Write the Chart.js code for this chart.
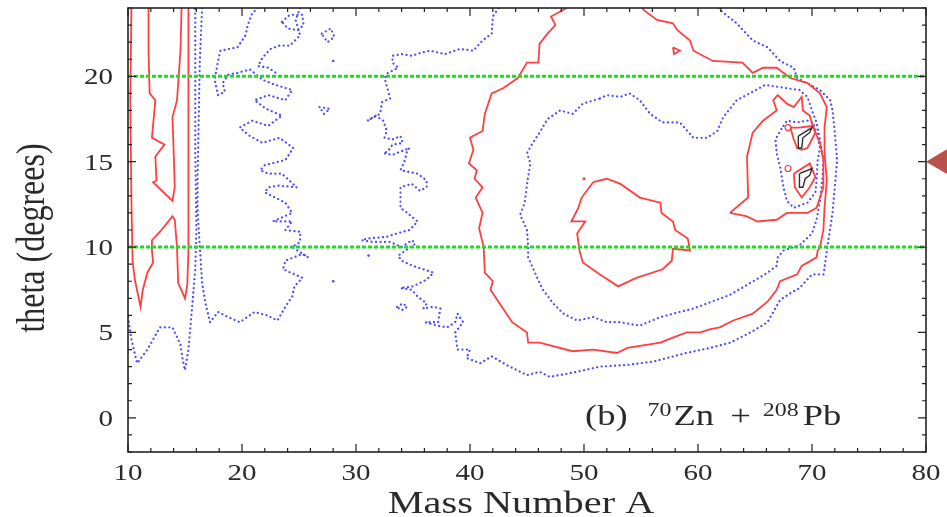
<!DOCTYPE html>
<html>
<head>
<meta charset="utf-8">
<script src="https://cdn.jsdelivr.net/npm/chart.js@4.4.0/dist/chart.umd.min.js"></script>
<style>
    html, body { margin: 0; padding: 0; background: #fff; }
</style>
</head>
<body>
<canvas id="contourChart" width="947" height="517"></canvas>
<script>
// axis setup
const xTicks = [10, 20, 30, 40, 50, 60, 70, 80];
const yTicks = [0, 5, 10, 15, 20];
const xRange = [10, 80];
const yRange = [-2, 24];
const cutAngles = [10, 20];

// red contours, [A, theta]
const redLeftOuter = [[10.3,24.0],[10.2,18.6],[10.3,12.7],[10.4,9.2],[10.6,8.1],[11.1,6.5],[11.3,7.5],[11.7,8.5],[12.2,9.1],[12.1,9.8],[12.1,10.4],[12.8,10.9],[13.9,11.8],[14.1,11.6],[14.3,10.0],[14.4,7.9],[14.8,7.3],[15.0,7.0],[15.2,7.8],[15.3,9.8],[15.3,15.7],[15.3,24.0]];
const redLeftInner = [[11.8,24.0],[11.8,21.5],[11.9,19.0],[12.4,18.6],[12.1,16.4],[13.2,16.0],[12.4,15.3],[12.5,13.9],[12.2,13.8],[13.9,12.7],[14.1,13.5],[14.0,15.7],[13.9,17.6],[14.3,18.6],[14.6,21.5],[14.7,24.0]];
const redOuter = [[48.5,24.0],[47.1,23.5],[47.5,23.0],[46.8,22.5],[46.1,21.9],[46.0,20.8],[45.0,20.8],[44.2,19.9],[42.9,19.3],[41.9,19.0],[41.3,17.8],[41.1,16.8],[40.0,16.4],[40.3,15.7],[39.9,14.9],[40.6,14.5],[40.4,14.0],[41.1,13.5],[40.5,12.9],[41.1,12.0],[40.8,11.1],[41.2,10.0],[41.3,8.5],[42.0,8.0],[41.8,7.5],[42.6,6.7],[43.7,5.6],[45.0,5.0],[45.1,4.4],[46.1,4.4],[49.0,3.9],[50.8,4.0],[52.9,3.8],[53.8,4.1],[56.7,4.4],[57.8,4.7],[59.0,5.0],[60.2,5.0],[61.1,5.2],[61.9,5.3],[63.1,5.7],[64.8,6.1],[66.1,6.8],[66.9,7.5],[67.2,8.0],[68.7,8.4],[69.1,8.9],[70.4,9.4],[70.5,9.8],[70.7,10.0],[71.0,11.0],[71.1,12.3],[71.3,13.9],[71.1,15.5],[71.1,17.0],[71.3,18.2],[70.7,19.0],[69.6,19.6],[68.1,19.9],[66.9,20.5],[65.7,20.5],[64.8,20.2],[63.9,20.8],[61.3,20.9],[59.6,21.5],[59.3,22.1],[58.2,22.7],[57.8,23.1],[56.4,23.3],[55.2,23.9],[55.1,24.0]];
const redCentre = [[50.8,13.8],[52.0,14.0],[53.2,13.7],[54.9,12.9],[56.7,12.6],[56.8,12.0],[57.8,11.5],[58.0,11.0],[59.1,10.5],[59.3,9.8],[57.8,9.9],[57.7,9.2],[56.9,8.7],[54.6,8.2],[53.0,7.7],[51.4,8.4],[49.9,9.1],[49.6,9.8],[49.4,10.8],[50.1,11.5],[48.9,11.5],[49.5,12.3],[49.8,12.9],[50.8,13.8]];
const redHead = [[62.8,12.0],[64.4,12.9],[64.3,15.3],[64.8,16.7],[65.7,17.4],[66.9,18.0],[66.6,18.6],[67.0,18.9],[67.8,18.4],[68.4,18.2],[69.1,18.8],[69.2,18.0],[69.8,17.7],[70.1,17.0],[70.7,16.1],[71.0,15.1],[71.0,13.5],[70.4,12.3],[69.6,12.0],[67.8,12.0],[66.9,11.6],[65.2,11.5],[64.3,11.8],[62.8,12.0]];
const redPeakUp = [[68.1,17.0],[68.9,17.0],[70.1,17.1],[70.3,16.7],[69.6,15.8],[69.1,15.7],[68.7,15.8],[68.4,16.3],[68.1,17.0]];
const redPeakLow = [[68.4,14.3],[69.8,14.9],[70.3,14.1],[69.8,13.5],[69.1,12.9],[68.5,13.5],[68.4,14.3]];
const redTiny = [[57.8,21.7],[58.4,21.5],[57.9,21.3],[57.8,21.7]];
const redRings = [[67.9,17.0],[67.9,14.6]];
const redSpecks = [[50.0,14.0]];

// blue dotted contours
const blueLeft = [[10.0,5.9],[10.3,4.6],[10.8,3.2],[11.7,4.0],[12.8,5.3],[13.9,5.3],[14.6,4.3],[14.8,3.4],[15.0,2.8],[15.3,4.0],[15.6,6.3],[15.9,8.7],[16.0,11.0],[15.9,15.7],[15.9,24.0]];
const blueWiggle = [[16.5,24.0],[16.3,20.9],[16.2,17.4],[16.1,13.9],[16.1,12.2],[16.3,10.0],[16.5,7.9],[16.8,6.7],[17.2,5.6],[17.9,6.2],[18.8,5.9],[19.8,5.6],[21.1,6.2],[22.2,6.0],[23.1,5.7],[23.8,6.5],[24.4,7.1],[24.6,7.7],[25.3,8.2],[23.6,8.7],[23.8,9.2],[25.3,9.6],[25.8,9.4],[24.4,10.0],[25.1,10.3],[25.1,10.9],[23.8,11.0],[24.4,11.5],[22.7,11.5],[24.4,12.0],[23.8,12.6],[22.0,13.2],[22.3,13.5],[23.2,13.6],[24.8,13.5],[23.5,14.3],[22.3,14.3],[21.6,14.5],[22.0,14.8],[23.8,15.1],[24.5,15.8],[23.3,16.4],[21.8,16.1],[20.7,16.5],[19.8,17.0],[20.9,17.4],[22.3,17.1],[23.5,17.7],[22.1,18.1],[21.1,18.6],[22.3,18.9],[23.8,18.6],[24.4,19.2],[22.9,19.5],[21.8,19.8],[20.7,20.4],[19.6,20.2],[18.8,20.1],[18.3,19.6],[18.5,19.1],[17.9,18.9],[17.6,19.8],[17.9,20.9],[18.1,21.5],[19.6,21.7],[20.3,22.4],[20.5,23.0],[20.9,23.7],[21.4,24.0]];
const blueWiggleTop = [[25.1,24.0],[24.7,23.3],[25.1,22.4],[24.2,21.8],[23.3,21.8],[22.5,21.6],[21.8,21.1],[21.4,20.6],[22.3,20.5],[23.0,20.2]];
const blueLoopA = [[23.5,23.2],[24.2,23.6],[25.3,23.6],[25.4,23.0],[24.9,22.7],[24.0,22.8],[23.5,23.2]];
const blueLoopB = [[27.0,22.5],[27.8,22.8],[28.1,22.3],[27.5,22.0],[27.0,22.5]];
const blueLoopC = [[26.8,18.2],[27.7,18.1],[27.2,17.8],[26.8,18.2]];
const blueLoopD = [[33.6,6.5],[34.1,6.7],[34.5,6.5],[34.0,6.3],[33.6,6.5]];
const blueOuter = [[42.5,24.0],[42.0,23.5],[41.9,22.5],[41.1,22.1],[40.3,21.5],[39.1,21.6],[37.8,21.3],[36.5,21.5],[35.8,21.4],[34.9,21.2],[34.0,21.3],[33.2,21.2],[33.2,20.8],[33.7,20.5],[32.8,20.2],[32.5,19.9],[32.8,19.2],[33.0,18.7],[32.3,18.5],[32.1,17.8],[31.0,17.4],[31.7,17.7],[32.4,17.4],[32.7,16.8],[32.5,16.4],[33.2,16.3],[33.9,16.5],[34.1,16.1],[33.2,16.0],[32.8,15.6],[32.4,15.5],[33.2,15.4],[34.7,15.8],[34.5,15.7],[34.3,15.1],[33.9,14.5],[35.4,14.3],[36.2,13.9],[36.2,13.5],[35.6,13.3],[34.9,13.7],[33.9,13.5],[33.9,12.3],[34.5,12.0],[35.4,11.5],[34.7,11.0],[33.6,10.8],[32.7,10.6],[31.0,10.5],[30.5,10.4],[31.5,10.3],[33.0,10.3],[34.0,10.0],[34.9,10.4],[35.2,10.2],[33.7,9.5],[34.0,9.2],[35.0,8.9],[36.8,8.5],[36.2,8.1],[35.0,7.7],[33.9,7.6],[34.9,7.5],[35.4,7.1],[36.2,6.7],[35.9,6.4],[36.8,6.5],[37.4,6.4],[37.2,5.6],[36.1,5.6],[37.1,5.4],[38.0,5.3],[38.7,5.6],[38.9,6.1],[39.4,5.6],[38.7,5.0],[38.9,4.0],[40.0,4.0],[39.7,3.5],[40.9,3.2],[41.9,3.6],[43.2,3.1],[45.0,2.5],[46.1,2.7],[47.0,2.4],[49.4,2.7],[51.4,3.0],[53.8,3.1],[56.1,3.3],[59.0,3.8],[61.1,4.1],[62.8,4.4],[64.6,5.0],[66.1,5.6],[67.2,6.9],[68.1,7.3],[68.9,7.6],[70.0,8.4],[71.0,8.4],[71.1,8.8],[71.3,9.8],[71.8,12.0],[72.0,13.5],[72.2,15.1],[72.0,16.7],[71.8,18.0],[71.6,18.6],[70.7,19.2],[68.7,19.9],[68.4,20.5],[67.2,20.9],[66.1,21.7],[64.8,22.1],[63.4,23.1],[61.9,23.9],[61.8,24.0]];
const blueMiddle = [[51.4,18.7],[52.0,18.9],[53.2,18.8],[54.0,19.0],[54.9,18.6],[55.8,17.8],[56.9,17.3],[58.4,17.3],[59.6,16.4],[60.8,16.4],[61.7,16.8],[62.2,17.6],[63.4,18.6],[64.8,19.1],[65.9,19.5],[67.8,19.3],[68.9,19.2],[69.6,18.8],[70.0,18.0],[70.4,17.3],[70.7,16.3],[71.0,15.1],[70.9,13.9],[70.7,12.7],[70.4,11.6],[70.0,10.8],[68.9,10.1],[67.5,9.8],[67.0,9.4],[66.9,8.9],[66.1,8.5],[64.6,7.9],[62.8,7.2],[60.8,6.7],[59.6,6.4],[58.4,6.2],[56.7,5.9],[54.9,5.4],[53.2,5.6],[52.0,5.6],[50.8,5.9],[49.4,5.7],[48.2,6.1],[47.3,6.7],[46.4,7.5],[45.9,8.2],[45.1,9.4],[45.1,10.0],[45.0,11.0],[44.4,11.9],[44.8,12.6],[45.0,13.7],[45.3,14.9],[45.0,15.5],[45.5,16.1],[46.1,16.7],[46.8,17.5],[47.9,18.0],[49.0,17.8],[49.9,18.4],[51.4,18.7]];
const blueInner = [[67.5,17.1],[67.8,17.4],[68.7,17.3],[69.6,17.4],[70.1,17.3],[70.4,16.7],[70.7,15.8],[70.5,15.1],[70.4,13.9],[70.3,13.2],[69.6,12.6],[68.4,12.3],[67.8,12.7],[67.5,13.5],[67.2,14.7],[66.9,15.5],[66.8,16.3],[67.2,16.8],[67.5,17.1]];
const blueSpecks = [[28.0,20.9],[31.1,9.5],[28.0,8.0]];

// black contours at the peaks
const blackUp = [[68.8,16.5],[70.0,17.0],[69.8,16.7],[69.2,16.4],[69.1,15.8],[68.8,15.8],[68.8,16.5]];
const blackLow = [[68.9,14.3],[70.0,14.6],[69.8,14.2],[69.4,14.0],[69.2,13.5],[68.9,13.5],[68.9,14.3]];

const RED = '#ff4040';
const BLUE = '#4a4aff';
const GREEN = '#1edc1e';
const BLACK = '#2e2e2e';
const TEXT = '#2a2a2a';
const SERIF = '"Liberation Serif", "DejaVu Serif", serif';
const STRETCH = 1.26;

const toPts = arr => arr.map(p => ({ x: p[0], y: p[1] }));

function line(arr, color, width, dash, cap) {
    return {
        data: toPts(arr),
        showLine: true,
        borderColor: color,
        borderWidth: width,
        borderDash: dash || [],
        borderCapStyle: cap || 'butt',
        pointRadius: 0,
        fill: false
    };
}

function dots(arr, color, radius, hollow) {
    return {
        data: toPts(arr),
        showLine: false,
        pointRadius: radius,
        pointBorderWidth: hollow ? 1.2 : 0,
        pointBorderColor: color,
        pointBackgroundColor: hollow ? 'rgba(0,0,0,0)' : color
    };
}

const datasets = [
    ...cutAngles.map(a => line([[xRange[0], a], [xRange[1], a]], GREEN, 3, [4, 2])),
    ...[blackUp, blackLow].map(c => line(c, BLACK, 1.4)),
    ...[redLeftOuter, redLeftInner, redOuter, redCentre, redHead, redPeakUp, redPeakLow, redTiny].map(c => line(c, RED, 1.8)),
    ...[blueLeft, blueWiggle, blueWiggleTop, blueLoopA, blueLoopB, blueLoopC, blueLoopD, blueOuter, blueMiddle, blueInner].map(c => line(c, BLUE, 2.2, [0.1, 4.4], 'round')),
    dots(redRings, RED, 3, true),
    dots(redSpecks, RED, 1.6, false),
    dots(blueSpecks, BLUE, 1.3, false)
];

function stretchText(ctx, str, x, y, size, align) {
    ctx.save();
    ctx.font = size + 'px ' + SERIF;
    ctx.translate(x, y);
    ctx.scale(STRETCH, 1);
    ctx.textAlign = align;
    ctx.textBaseline = 'alphabetic';
    ctx.fillText(str, 0, 0);
    ctx.restore();
}

// frame, inward ticks, labels and the panel note
const framePlugin = {
    id: 'framePlugin',
    afterDatasetsDraw(chart) {
        const { ctx, chartArea: a, scales: { x, y } } = chart;
        ctx.save();
        ctx.strokeStyle = '#222';
        ctx.lineWidth = 1.2;
        ctx.beginPath();
        for (let v = xRange[0]; v <= xRange[1]; v += 2) {
            const px = x.getPixelForValue(v);
            const len = xTicks.includes(v) ? 8 : 4;
            ctx.moveTo(px, a.bottom); ctx.lineTo(px, a.bottom - len);
            ctx.moveTo(px, a.top); ctx.lineTo(px, a.top + len);
        }
        for (let v = yRange[0]; v <= yRange[1]; v += 1) {
            const py = y.getPixelForValue(v);
            const len = yTicks.includes(v) ? 8 : 4;
            ctx.moveTo(a.left, py); ctx.lineTo(a.left + len, py);
            ctx.moveTo(a.right, py); ctx.lineTo(a.right - len, py);
        }
        ctx.stroke();
        ctx.lineWidth = 1.6;
        ctx.strokeRect(a.left, a.top, a.right - a.left, a.bottom - a.top);

        ctx.fillStyle = TEXT;
        xTicks.forEach(v => stretchText(ctx, String(v), x.getPixelForValue(v), a.bottom + 28, 23, 'center'));
        yTicks.forEach(v => stretchText(ctx, String(v), a.left - 15, y.getPixelForValue(v) + 8, 23, 'right'));
        stretchText(ctx, 'Mass Number A', (a.left + a.right) / 2 - 6, a.bottom + 61, 32, 'center');

        // y title, rotated
        ctx.save();
        ctx.translate(a.left - 84, a.top + 230);
        ctx.rotate(-Math.PI / 2);
        ctx.scale(1, STRETCH);
        ctx.font = '32px ' + SERIF;
        ctx.textAlign = 'center';
        ctx.fillText('theta (degrees)', 0, 0);
        ctx.restore();

        // (b) 70Zn + 208Pb
        const base = a.bottom - 27;
        const sup = base - 9;
        let cx = a.right - 341;
        const piece = (str, size, yy, gap) => {
            ctx.font = size + 'px ' + SERIF;
            stretchText(ctx, str, cx, yy, size, 'left');
            cx += ctx.measureText(str).width * STRETCH + gap;
        };
        piece('(b)', 29, base, 20);
        piece('70', 19, sup, 2);
        piece('Zn', 29, base, 16);
        piece('+', 29, base, 12);
        piece('208', 19, sup, 4);
        piece('Pb', 29, base, 0);

        // marker at the right edge
        const ty = y.getPixelForValue(15);
        ctx.fillStyle = '#b9524d';
        ctx.beginPath();
        ctx.moveTo(a.right, ty);
        ctx.lineTo(a.right + 34, ty - 20);
        ctx.lineTo(a.right + 34, ty + 20);
        ctx.closePath();
        ctx.fill();
        ctx.restore();
    }
};

const ctx = document.getElementById('contourChart').getContext('2d');
new Chart(ctx, {
    type: 'scatter',
    data: { datasets },
    options: {
        responsive: false,
        animation: false,
        devicePixelRatio: 1,
        layout: { padding: { top: 8, right: 21, left: 0, bottom: 0 } },
        plugins: { legend: { display: false }, tooltip: { enabled: false } },
        elements: { line: { tension: 0 } },
        scales: {
            x: {
                type: 'linear', min: xRange[0], max: xRange[1],
                grid: { display: false }, border: { display: false }, ticks: { display: false },
                afterFit: s => { s.height = 65; }
            },
            y: {
                type: 'linear', min: yRange[0], max: yRange[1],
                grid: { display: false }, border: { display: false }, ticks: { display: false },
                afterFit: s => { s.width = 128; }
            }
        }
    },
    plugins: [framePlugin]
});
</script>
</body>
</html>
